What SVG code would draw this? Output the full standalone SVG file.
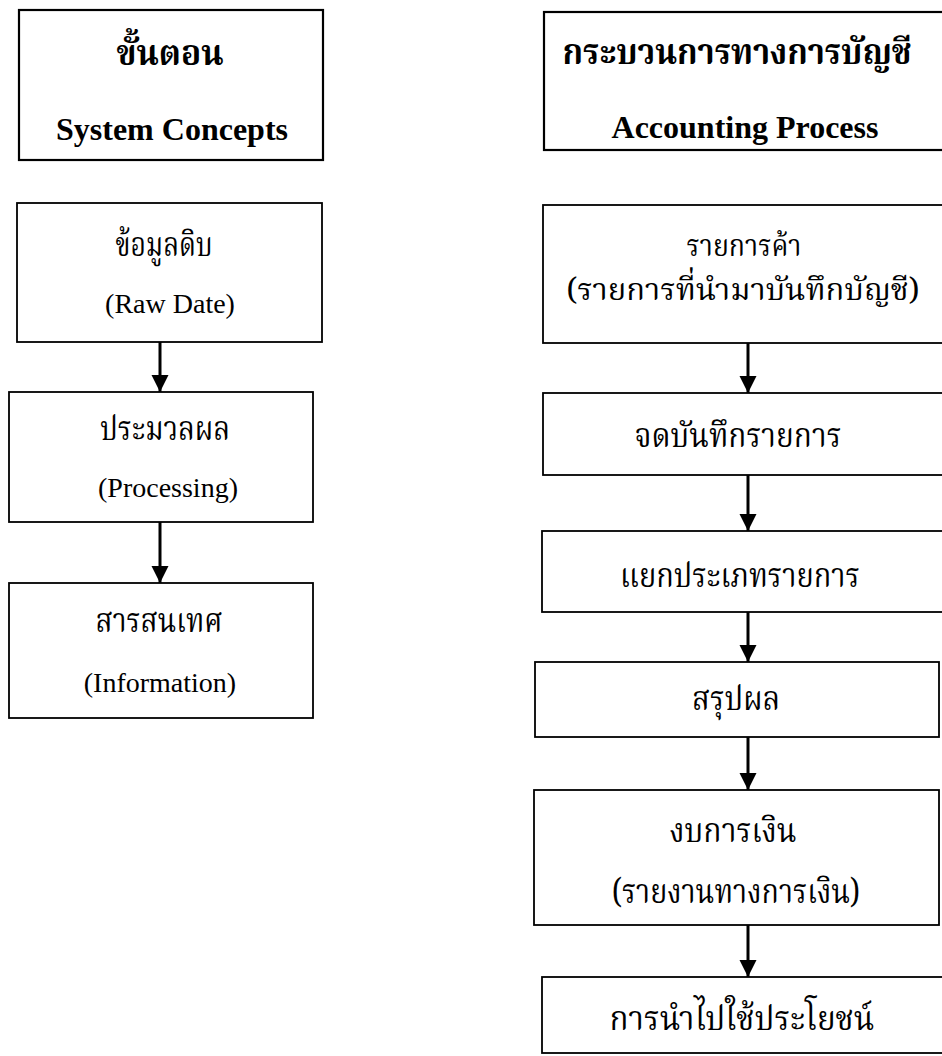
<svg xmlns="http://www.w3.org/2000/svg" width="942" height="1056" viewBox="0 0 942 1056">
<style>
.box{fill:#fff;stroke:#000;stroke-width:1.8}
.hbox{fill:#fff;stroke:#000;stroke-width:2.2}
.en{font-family:"Liberation Serif","Times New Roman",serif;font-size:28px;fill:#000;text-anchor:middle}
.enb{font-family:"Liberation Serif","Times New Roman",serif;font-size:32px;font-weight:bold;fill:#000;text-anchor:middle}
.th{font-family:"Noto Serif Thai","Noto Sans Thai Looped","Noto Sans Thai","Noto Sans",sans-serif;font-size:34px;fill:#000;text-anchor:middle}
.ths{font-size:31px}
.thb{font-family:"Noto Serif Thai","Noto Sans Thai Looped","Noto Sans Thai","Noto Sans",sans-serif;font-size:35px;font-weight:bold;fill:#000;text-anchor:middle}
.conn{stroke:#000;stroke-width:3;fill:none;marker-end:url(#arr)}
</style>
<defs>
<marker id="arr" markerUnits="userSpaceOnUse" markerWidth="18" markerHeight="18" refX="17" refY="8.5" orient="auto">
<path d="M0,0 L17,8.5 L0,17 z" fill="#000"/>
</marker>
</defs>
<rect width="942" height="1056" fill="#fff"/>
<g id="left-header">
<rect class="hbox" x="19" y="10" width="304" height="150"/>
<text class="thb" x="170" y="65" textLength="107" lengthAdjust="spacingAndGlyphs">ขั้นตอน</text>
<text class="enb" x="172" y="140">System Concepts</text>
</g>
<g id="raw-data">
<rect class="box" x="17" y="203" width="305" height="139"/>
<text class="th" x="164" y="256" textLength="97" lengthAdjust="spacingAndGlyphs">ข้อมูลดิบ</text>
<text class="en" x="170" y="313">(Raw Date)</text>
</g>
<g id="processing">
<rect class="box" x="9" y="392" width="304" height="130"/>
<text class="th" x="165" y="440" textLength="130" lengthAdjust="spacingAndGlyphs">ประมวลผล</text>
<text class="en" x="168" y="497">(Processing)</text>
</g>
<g id="information">
<rect class="box" x="9" y="583" width="304" height="135"/>
<text class="th" x="159" y="632" textLength="127" lengthAdjust="spacingAndGlyphs">สารสนเทศ</text>
<text class="en" x="160" y="692">(Information)</text>
</g>
<g id="right-header">
<rect class="hbox" x="544" y="12" width="402" height="138"/>
<text class="thb" x="737" y="64" textLength="349" lengthAdjust="spacingAndGlyphs">กระบวนการทางการบัญชี</text>
<text class="enb" x="745" y="138">Accounting Process</text>
</g>
<g id="transactions">
<rect class="box" x="543" y="205" width="403" height="138"/>
<text class="th ths" x="744" y="256" textLength="115" lengthAdjust="spacingAndGlyphs">รายการค้า</text>
<text class="th ths" x="743" y="300" textLength="353" lengthAdjust="spacingAndGlyphs">(รายการที่นำมาบันทึกบัญชี)</text>
</g>
<g id="record">
<rect class="box" x="543" y="393" width="403" height="82"/>
<text class="th" x="738" y="447" textLength="207" lengthAdjust="spacingAndGlyphs">จดบันทึกรายการ</text>
</g>
<g id="classify">
<rect class="box" x="542" y="531" width="404" height="81"/>
<text class="th" x="740" y="587" textLength="240" lengthAdjust="spacingAndGlyphs">แยกประเภทรายการ</text>
</g>
<g id="summarize">
<rect class="box" x="535" y="662" width="404" height="75"/>
<text class="th" x="736" y="710" textLength="88" lengthAdjust="spacingAndGlyphs">สรุปผล</text>
</g>
<g id="statements">
<rect class="box" x="534" y="790" width="405" height="135"/>
<text class="th" x="733" y="842" textLength="127" lengthAdjust="spacingAndGlyphs">งบการเงิน</text>
<text class="th" x="736" y="903" textLength="248" lengthAdjust="spacingAndGlyphs">(รายงานทางการเงิน)</text>
</g>
<g id="utilize">
<rect class="box" x="542" y="977" width="404" height="76"/>
<text class="th" x="742" y="1030" textLength="265" lengthAdjust="spacingAndGlyphs">การนำไปใช้ประโยชน์</text>
</g>
<g id="connectors">
<line class="conn" x1="160" y1="342" x2="160" y2="392"/>
<line class="conn" x1="160" y1="522" x2="160" y2="583"/>
<line class="conn" x1="748" y1="343" x2="748" y2="393"/>
<line class="conn" x1="748" y1="475" x2="748" y2="531"/>
<line class="conn" x1="748" y1="612" x2="748" y2="662"/>
<line class="conn" x1="748" y1="737" x2="748" y2="790"/>
<line class="conn" x1="748" y1="925" x2="748" y2="977"/>
</g>
</svg>
